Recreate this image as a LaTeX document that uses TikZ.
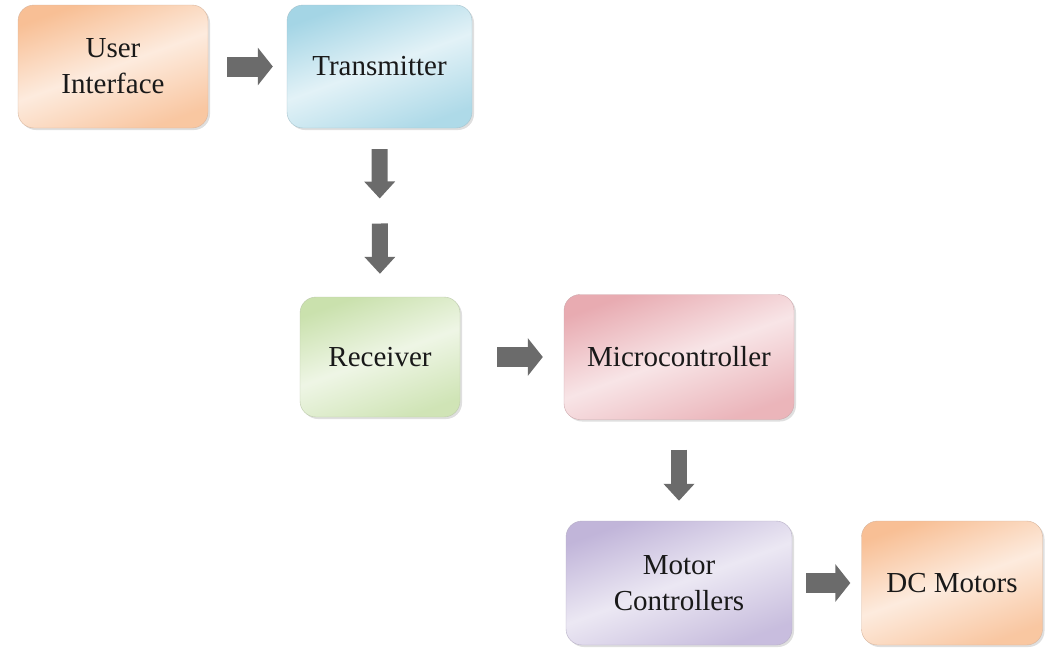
\documentclass[tikz,border=0pt]{standalone}
\usepackage{fontspec}
\setmainfont{Liberation Serif}
\usepackage{tikz}
\usetikzlibrary{shadows}
\usetikzlibrary{arrows.meta}
\usetikzlibrary{calc}
\definecolor{peach}{HTML}{F5A468}
\definecolor{sky}{HTML}{7DC3DA}
\definecolor{leaf}{HTML}{B3D48A}
\definecolor{rose}{HTML}{DE8790}
\definecolor{lilac}{HTML}{A695C9}
\definecolor{arrowgray}{HTML}{6B6B6B}
\tikzset{tint/.style = {draw = #1!75!black!55, top color = #1!70, bottom color = #1!62, middle color = #1!22, shading angle = 20}}

\begin{document}
\begin{tikzpicture}[x = 1pt, y = -1pt]
	% Styles
	\tikzstyle{block} = [rounded corners = 16pt, align = center, text = black!90, font = \fontsize{29}{36}\selectfont, drop shadow = {shadow xshift = 2pt, shadow yshift = -2pt, opacity = 0.25}]
	\tikzstyle{hflow} = [draw = arrowgray, line width = 20pt, -{Triangle[width = 37pt, length = 15pt]}]
	\tikzstyle{vflow} = [draw = arrowgray, line width = 16pt, -{Triangle[width = 30pt, length = 17pt]}]
	% Frame
	\useasboundingbox (0, 0) rectangle (1054, 648);
	% Blocks
	\node[block, tint = peach, minimum width = 190pt, minimum height = 123pt] (ui) at (113, 66.5) {User\\Interface};
	\node[block, tint = sky, minimum width = 185pt, minimum height = 123pt] (tx) at (379.5, 66.5) {Transmitter};
	\node[block, tint = leaf, minimum width = 160pt, minimum height = 120pt] (rx) at (380, 357) {Receiver};
	\node[block, tint = rose, minimum width = 230pt, minimum height = 125pt] (mc) at (679, 357) {Microcontroller};
	\node[block, tint = lilac, minimum width = 226pt, minimum height = 124pt] (mctrl) at (679, 583) {Motor\\Controllers};
	\node[block, tint = peach, minimum width = 181pt, minimum height = 124pt] (dc) at (952, 583) {DC Motors};
	% Link between transmitter and receiver
	\coordinate (link) at ($(tx.south)!0.5!(rx.north)$);
	% Arrows
	\draw[hflow, shorten < = 19pt, shorten > = 14pt] (ui) -- (tx);
	\draw[vflow, shorten < = 21pt, shorten > = 14pt] (tx.south) -- (link);
	\draw[vflow, shorten < = 11pt, shorten > = 23pt] (link) -- (rx.north);
	\draw[hflow, shorten < = 37pt, shorten > = 21pt] (rx.east) -- (mc.west);
	\draw[vflow, shorten < = 30pt, shorten > = 20pt] (mc.south) -- (mctrl.north);
	\draw[hflow, shorten < = 14pt, shorten > = 11pt] (mctrl.east) -- (dc.west);
\end{tikzpicture}
\end{document}
